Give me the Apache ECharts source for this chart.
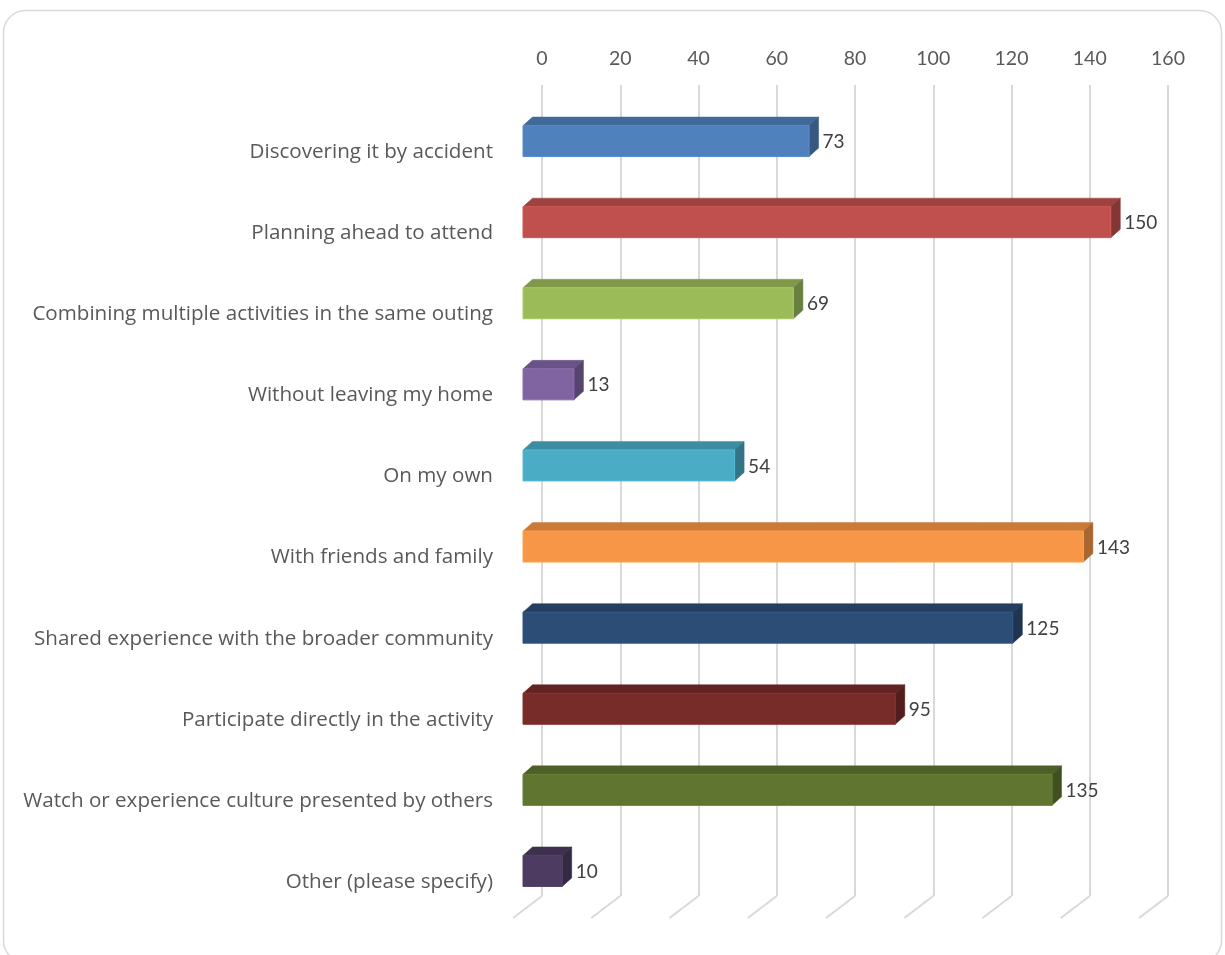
<!DOCTYPE html>
<html>
<head>
<meta charset="utf-8">
<script src="https://cdn.jsdelivr.net/npm/echarts@6/dist/echarts.min.js"></script>
<style>html,body{margin:0;padding:0;background:#fff;}#c{width:1225px;height:955px;}</style>
</head>
<body>
<div id="c"></div>
<script>
const categories = [
  'Discovering it by accident',
  'Planning ahead to attend',
  'Combining multiple activities in the same outing',
  'Without leaving my home',
  'On my own',
  'With friends and family',
  'Shared experience with the broader community',
  'Participate directly in the activity',
  'Watch or experience culture presented by others',
  'Other (please specify)'
];
const values = [73, 150, 69, 13, 54, 143, 125, 95, 135, 10];
const barColors = ['#4F81BD', '#C0504D', '#9BBB59', '#8064A2', '#4BACC6', '#F79646', '#2C4D75', '#772C2A', '#5F7530', '#4D3B62'];
const tickValues = [0, 20, 40, 60, 80, 100, 120, 140, 160];

const FONT = 'Lato';
const CAT_FONT = 'Open Sans';
const TXT = '#595959';

function shade(hex, f) {
  const n = parseInt(hex.slice(1), 16);
  const r = Math.min(255, Math.round(((n >> 16) & 255) * f)), g = Math.min(255, Math.round(((n >> 8) & 255) * f)), b = Math.min(255, Math.round((n & 255) * f));
  return 'rgb(' + r + ',' + g + ',' + b + ')';
}

const chart = echarts.init(document.getElementById('c'), null, {renderer: 'canvas'});
const DX = 9.5, DY = 8.5;

chart.setOption({
  animation: false,
  backgroundColor: '#fff',
  graphic: [{
    type: 'rect', shape: {x: 3.5, y: 10.5, width: 1218, height: 952, r: 22},
    style: {fill: 'none', stroke: '#d9d9d9', lineWidth: 1.5}, z: -10
  }],
  grid: [
    {left: 542, right: 57, top: 85, bottom: 59},
    {left: 523, right: 75, top: 100.5, height: 811},
    {left: 523, right: 75, top: 111.5, height: 811}
  ],
  xAxis: [
    {gridIndex: 0, type: 'value', min: 0, max: 160, interval: 20, position: 'top',
     axisLine: {show: false}, axisTick: {show: false},
     axisLabel: {color: TXT, fontFamily: FONT, fontSize: 19.5, margin: 16},
     splitLine: {show: true, lineStyle: {color: '#d9d9d9', width: 2}}},
    {gridIndex: 1, type: 'value', min: 0, max: 160, show: false},
    {gridIndex: 2, type: 'value', min: 0, max: 160, show: false}
  ],
  yAxis: [
    {gridIndex: 0, type: 'value', min: 0, max: 1, show: false},
    {gridIndex: 1, type: 'category', data: categories, inverse: true, show: false},
    {gridIndex: 2, type: 'category', data: categories, inverse: true,
     axisLine: {show: false}, axisTick: {show: false},
     axisLabel: {color: TXT, fontFamily: CAT_FONT, fontSize: 20.6, margin: 30}}
  ],
  series: [
    {
      type: 'custom', xAxisIndex: 0, yAxisIndex: 0, silent: true,
      data: tickValues.map(v => [v, 0]),
      renderItem: function (params, api) {
        const p = api.coord([api.value(0), 0]);
        return {type: 'line', shape: {x1: p[0], y1: p[1], x2: p[0] - 29, y2: p[1] + 22},
                style: {stroke: '#d9d9d9', lineWidth: 2}};
      }
    },
    {
      type: 'custom', xAxisIndex: 1, yAxisIndex: 1, silent: true,
      data: values.map((v, i) => [v, i]),
      renderItem: function (params, api) {
        const i = api.value(1), v = api.value(0);
        const s = api.coord([0, i]), e = api.coord([v, i]);
        const h = 31;
        const y0 = s[1] - h / 2, y1 = s[1] + h / 2;
        const x0 = s[0], x1 = e[0];
        const c = barColors[i];
        return {
          type: 'group',
          children: [
            {type: 'polygon', shape: {points: [[x0, y0], [x0 + DX, y0 - DY], [x1 + DX, y0 - DY], [x1, y0]]},
             style: {fill: shade(c, 0.82), stroke: shade(c, 0.82), lineWidth: 0.5}},
            {type: 'polygon', shape: {points: [[x1, y0], [x1 + DX, y0 - DY], [x1 + DX, y1 - DY], [x1, y1]]},
             style: {fill: shade(c, 0.68), stroke: shade(c, 0.68), lineWidth: 0.5}},
            {type: 'rect', shape: {x: x0, y: y0, width: x1 - x0, height: h},
             style: {fill: c, stroke: shade(c, 1.08), lineWidth: 1}},
            {type: 'text', x: x1 + DX + 4, y: s[1] + 1,
             style: {text: String(v), fill: '#404040', font: '19px ' + FONT, textAlign: 'left', textVerticalAlign: 'middle'}}
          ]
        };
      }
    }
  ]
});
</script>
</body>
</html>
